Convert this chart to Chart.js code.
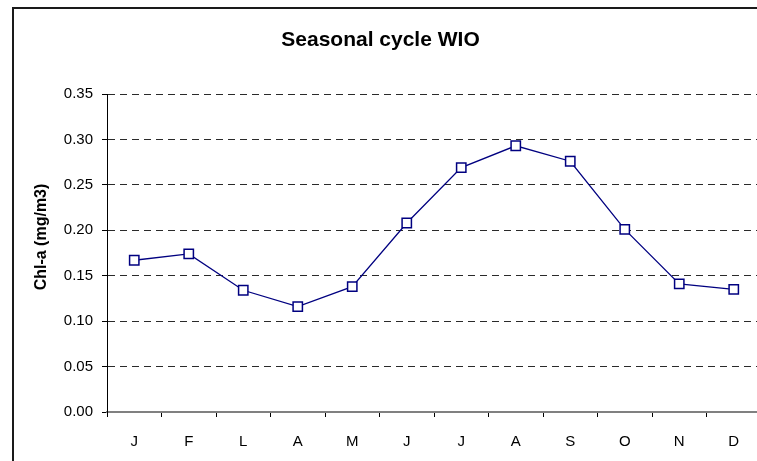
<!DOCTYPE html>
<html>
<head>
<meta charset="utf-8">
<script src="https://cdn.jsdelivr.net/npm/chart.js"></script>
<style>
  html, body { margin: 0; padding: 0; background: #fff; overflow: hidden; }
  #wrap { position: relative; width: 757px; height: 461px; overflow: hidden; }
  #frame { position: absolute; left: 12px; top: 7px; width: 900px; height: 600px; border: 2px solid #1a1a1a; box-sizing: border-box; }
  #chart { position: absolute; left: 0; top: 0; }
</style>
</head>
<body>
<div id="wrap">
  <div id="frame"></div>
  <canvas id="chart" width="790" height="461"></canvas>
</div>
<script>
// months (Portuguese initials, as in the source)
const months = ['J', 'F', 'L', 'A', 'M', 'J', 'J', 'A', 'S', 'O', 'N', 'D'];
// Chl-a seasonal cycle, mg/m3
const chla = [0.167, 0.174, 0.134, 0.116, 0.138, 0.208, 0.269, 0.293, 0.276, 0.201, 0.141, 0.135];
const yTicks = [0, 0.05, 0.10, 0.15, 0.20, 0.25, 0.30, 0.35];
const chartTitle = 'Seasonal cycle WIO';
const yTitle = 'Chl-a (mg/m3)';

const FONT = "'Liberation Sans', Arial, sans-serif";

// y axis title sits a bit above the plot centre, like Excel puts it
const yTitlePlugin = {
    id: 'yTitle',
    afterDraw(chart) {
        const ctx = chart.ctx;
        ctx.save();
        ctx.translate(42, 237);
        ctx.rotate(-Math.PI / 2);
        ctx.font = 'bold 16px ' + FONT;
        ctx.fillStyle = '#000';
        ctx.textAlign = 'center';
        ctx.textBaseline = 'middle';
        ctx.fillText(yTitle, 0, 0);
        ctx.restore();
    }
};

new Chart(document.getElementById('chart'), {
    type: 'line',
    data: {
        labels: months,
        datasets: [{
            data: chla,
            borderColor: '#000080',
            borderWidth: 1.3,
            tension: 0,
            fill: false,
            pointStyle: 'rect',
            pointRadius: 6.6,
            pointBorderWidth: 1.5,
            pointBackgroundColor: '#fff',
            pointBorderColor: '#000080'
        }]
    },
    options: {
        responsive: false,
        animation: false,
        devicePixelRatio: 1,
        layout: { padding: { left: 0, right: 29, top: 0, bottom: 0 } },
        plugins: {
            legend: { display: false },
            tooltip: { enabled: false },
            title: {
                display: true,
                text: chartTitle,
                color: '#000',
                font: { family: FONT, size: 21, weight: 'bold', lineHeight: 1.2 },
                padding: { top: 28, bottom: 40.8 }
            }
        },
        scales: {
            x: {
                offset: true,
                afterFit: s => { s.height = 49; },
                grid: {
                    display: true,
                    offset: true,
                    drawOnChartArea: false,
                    drawTicks: true,
                    tickLength: 5,
                    color: '#000',
                    tickColor: '#000'
                },
                border: { display: true, color: '#808080', width: 2 },
                ticks: {
                    color: '#000',
                    padding: 16,
                    maxRotation: 0,
                    autoSkip: false,
                    font: { family: FONT, size: 15 }
                }
            },
            y: {
                min: 0,
                max: 0.35,
                afterFit: s => { s.width = 107; },
                afterBuildTicks: s => { s.ticks = yTicks.map(v => ({ value: v })); },
                grid: {
                    color: '#2a2a2a',
                    lineWidth: 1,
                    drawTicks: true,
                    tickLength: 5,
                    tickColor: '#000',
                    tickBorderDash: []
                },
                border: { display: true, color: '#000', width: 1, dash: [7, 5] },
                ticks: {
                    color: '#000',
                    padding: 9,
                    font: { family: FONT, size: 15 },
                    callback: v => Number(v).toFixed(2)
                }
            }
        }
    },
    plugins: [yTitlePlugin]
});
</script>
</body>
</html>
